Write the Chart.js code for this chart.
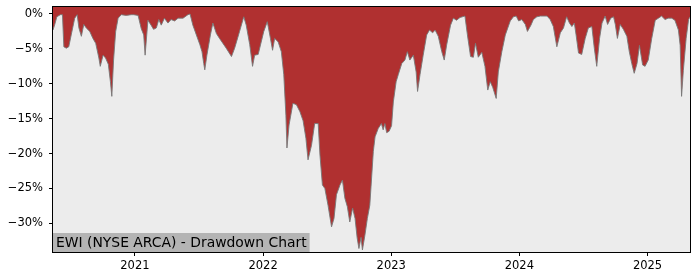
<!DOCTYPE html>
<html>
<head>
<meta charset="utf-8">
<script src="https://cdn.jsdelivr.net/npm/chart.js@4.4.1/dist/chart.umd.min.js"></script>
<style>
  body { margin: 0; background: #fff; }
  canvas { display: block; }
</style>
</head>
<body>
<canvas id="myChart" width="700" height="280"></canvas>
<script>
// drawdown of EWI (percent)
var dates = [
  '2020-05-12','2020-05-17','2020-05-23','2020-06-02','2020-06-08','2020-06-12','2020-06-19','2020-06-26',
  '2020-07-03','2020-07-13','2020-07-20','2020-07-25','2020-08-01','2020-08-08','2020-08-15','2020-08-25',
  '2020-09-03','2020-09-11','2020-09-20','2020-09-24','2020-10-02','2020-10-09','2020-10-17','2020-10-23',
  '2020-10-27','2020-11-01','2020-11-07','2020-11-14','2020-11-23','2020-12-07','2020-12-22','2020-12-28',
  '2021-01-10','2021-01-19','2021-01-26','2021-01-30','2021-02-07','2021-02-16','2021-02-23','2021-03-03',
  '2021-03-10','2021-03-17','2021-03-26','2021-04-05','2021-04-14','2021-04-24','2021-05-04','2021-05-18',
  '2021-06-01','2021-06-07','2021-06-15','2021-06-25','2021-07-05','2021-07-11','2021-07-16','2021-07-19',
  '2021-07-25','2021-08-04','2021-08-11','2021-08-21','2021-08-30','2021-09-18','2021-10-03','2021-10-12',
  '2021-10-26','2021-11-07','2021-11-14','2021-11-24','2021-12-02','2021-12-08','2021-12-18',
  '2022-01-03','2022-01-13','2022-01-22','2022-01-28','2022-02-03','2022-02-13','2022-02-22','2022-03-01',
  '2022-03-07','2022-03-10','2022-03-16','2022-03-27','2022-04-06','2022-04-16','2022-04-25','2022-05-03',
  '2022-05-09','2022-05-19','2022-05-28','2022-06-07','2022-06-12','2022-06-19','2022-06-26','2022-07-05',
  '2022-07-15','2022-07-22','2022-07-29','2022-08-08','2022-08-15','2022-08-22','2022-08-29','2022-09-05',
  '2022-09-13','2022-09-20','2022-09-26','2022-10-01','2022-10-07','2022-10-11','2022-10-18','2022-10-25',
  '2022-11-01','2022-11-11','2022-11-16','2022-11-25','2022-12-04','2022-12-09','2022-12-14','2022-12-19',
  '2022-12-26',
  '2023-01-02','2023-01-07','2023-01-15','2023-01-21','2023-01-31','2023-02-09','2023-02-16','2023-02-23',
  '2023-03-05','2023-03-13','2023-03-17','2023-03-24','2023-04-02','2023-04-12','2023-04-20','2023-04-29',
  '2023-05-06','2023-05-15','2023-05-25','2023-06-01','2023-06-08','2023-06-19','2023-06-27','2023-07-06',
  '2023-07-16','2023-07-30','2023-08-06','2023-08-15','2023-08-23','2023-08-29','2023-09-06','2023-09-16',
  '2023-09-25','2023-10-03','2023-10-10','2023-10-17','2023-10-27','2023-11-02','2023-11-12','2023-11-22',
  '2023-12-06','2023-12-15','2023-12-23','2023-12-30',
  '2024-01-08','2024-01-18','2024-01-24','2024-02-03','2024-02-10','2024-02-20','2024-03-01','2024-03-20',
  '2024-03-29','2024-04-07','2024-04-17','2024-04-27','2024-05-06','2024-05-15','2024-05-23','2024-05-30',
  '2024-06-06','2024-06-11','2024-06-18','2024-06-27','2024-07-07','2024-07-16','2024-07-26','2024-08-02',
  '2024-08-09','2024-08-17','2024-08-24','2024-09-02','2024-09-09','2024-09-18','2024-09-26','2024-10-01',
  '2024-10-07','2024-10-15','2024-10-24','2024-11-03','2024-11-10','2024-11-17','2024-11-24','2024-12-02',
  '2024-12-09','2024-12-18','2024-12-25',
  '2025-01-03','2025-01-13','2025-01-23','2025-02-01','2025-02-10','2025-02-20','2025-03-01','2025-03-11',
  '2025-03-20','2025-03-30','2025-04-04','2025-04-08','2025-04-13','2025-04-21','2025-04-28','2025-05-02'
];

var drawdown = [
  -2.3, -1.5, -0.4, -0.1, -0.1, -4.7, -4.9, -4.7,
  -3.0, -0.6, -0.1, -2.0, -3.2, -1.5, -2.0, -2.5,
  -3.5, -4.2, -6.3, -7.5, -5.9, -6.3, -7.2, -9.7,
  -11.8, -6.6, -2.5, -0.6, -0.1, -0.2, -0.1, -0.1,
  -0.2, -2.1, -3.0, -5.9, -0.9, -1.6, -2.2, -2.0,
  -0.8, -1.6, -0.6, -1.3, -0.8, -1.0, -0.6, -0.6,
  -0.1, 0.0, -1.6, -3.0, -4.4, -5.4, -7.1, -8.0,
  -5.9, -3.0, -1.3, -2.8, -3.5, -4.9, -6.1, -4.9,
  -2.5, -0.4, -1.6, -4.4, -7.5, -5.9, -5.8,
  -2.5, -1.1, -3.5, -5.2, -3.5, -4.0, -5.4, -8.7,
  -14.5, -19.2, -15.9, -12.8, -13.0, -14.0, -15.3, -17.8,
  -20.9, -18.8, -15.7, -15.7, -20.2, -24.5, -25.0, -27.4,
  -30.5, -29.3, -25.9, -24.5, -23.8, -26.4, -27.6, -29.8,
  -27.8, -29.3, -32.1, -33.6, -32.0, -33.8, -31.7, -29.3,
  -27.4, -19.7, -17.6, -16.4, -15.7, -16.6, -15.7, -17.0,
  -16.8,
  -16.0, -12.6, -9.7, -8.7, -7.1, -6.6, -5.4, -6.6,
  -5.9, -8.3, -11.1, -8.7, -5.9, -3.0, -2.3, -2.7,
  -2.3, -3.2, -5.4, -6.6, -4.4, -1.6, -0.6, -0.9,
  -0.5, -0.3, -3.0, -6.1, -6.2, -4.2, -6.2, -5.5,
  -7.5, -10.9, -9.7, -10.5, -12.1, -8.3, -5.4, -3.0,
  -1.0, -0.4, -0.3, -1.0,
  -0.8, -1.5, -2.5, -1.6, -0.8, -0.4, -0.3, -0.3,
  -0.8, -1.8, -4.7, -2.7, -2.0, -0.4, -1.3, -1.8,
  -1.3, -3.0, -5.6, -5.8, -3.5, -2.0, -1.8, -4.9,
  -7.5, -3.5, -1.3, -0.3, -1.5, -0.6, -0.4, -1.5,
  -3.5, -1.5, -2.2, -3.2, -5.4, -7.1, -8.5, -7.1,
  -4.5, -7.3, -7.5,
  -6.6, -3.5, -0.9, -0.6, -0.3, -0.8, -0.6, -0.6,
  -0.9, -2.3, -4.5, -11.8, -8.1, -3.5, -0.8, -0.4
];

var yearTicks = [2021, 2022, 2023, 2024, 2025];
var pctTicks = [0, -5, -10, -15, -20, -25, -30];
var titleText = 'EWI (NYSE ARCA) - Drawdown Chart';

// date string -> fractional year, so a linear scale can be used
function toYear(s) {
  var d = new Date(s + 'T00:00:00Z');
  var y = d.getUTCFullYear();
  var start = Date.UTC(y, 0, 1);
  var end = Date.UTC(y + 1, 0, 1);
  return y + (d.getTime() - start) / (end - start);
}

var points = dates.map(function (s, i) {
  return { x: toYear(s), y: drawdown[i] };
});

var font = { family: 'DejaVu Sans', size: 11.5 };

var plotDecor = {
  id: 'plotDecor',
  beforeDatasetsDraw: function (chart) {
    var a = chart.chartArea;
    var c = chart.ctx;
    c.save();
    c.fillStyle = '#ececec';
    c.fillRect(a.left, a.top, a.right - a.left, a.bottom - a.top);
    c.restore();
  },
  afterDatasetsDraw: function (chart) {
    var a = chart.chartArea;
    var c = chart.ctx;
    c.save();
    c.font = '13.9px "DejaVu Sans"';
    var w = c.measureText(titleText).width;
    c.fillStyle = '#b4b4b4';
    c.fillRect(a.left, a.bottom - 19, w + 6, 19);
    c.fillStyle = '#000';
    c.textBaseline = 'alphabetic';
    c.fillText(titleText, a.left + 3, a.bottom - 5);
    c.strokeStyle = '#000';
    c.lineWidth = 1;
    c.strokeRect(Math.round(a.left) - 0.5, Math.round(a.top) - 0.5,
      Math.round(a.right - a.left) + 1, Math.round(a.bottom - a.top) + 1);
    c.restore();
  }
};

var ctx = document.getElementById('myChart').getContext('2d');

var myChart = new Chart(ctx, {
  type: 'line',
  data: {
    datasets: [{
      data: points,
      borderColor: 'rgba(120,120,120,0.9)',
      borderWidth: 1,
      backgroundColor: '#b03030',
      fill: 'end',
      pointRadius: 0,
      tension: 0
    }]
  },
  options: {
    responsive: false,
    animation: false,
    layout: { padding: { top: 7, right: 10, left: 0, bottom: 0 } },
    plugins: {
      legend: { display: false },
      tooltip: { enabled: false }
    },
    scales: {
      x: {
        type: 'linear',
        min: points[0].x,
        max: points[points.length - 1].x,
        afterBuildTicks: function (scale) {
          scale.ticks = yearTicks.map(function (v) { return { value: v }; });
        },
        afterFit: function (scale) {
          scale.height = 28;
          scale.paddingLeft = 0;
          scale.paddingRight = 0;
        },
        ticks: {
          color: '#000',
          font: font,
          padding: 3,
          maxRotation: 0,
          autoSkip: false,
          callback: function (v) { return String(v); }
        },
        grid: { drawOnChartArea: false, tickLength: 4, color: '#000' },
        border: { color: '#000' }
      },
      y: {
        min: -34.1,
        max: 1.0,
        afterBuildTicks: function (scale) {
          scale.ticks = pctTicks.map(function (v) { return { value: v }; });
        },
        afterFit: function (scale) {
          scale.width = 53;
          scale.paddingTop = 0;
          scale.paddingBottom = 0;
        },
        ticks: {
          color: '#000',
          font: font,
          padding: 6,
          callback: function (v) {
            return v === 0 ? '0%' : '\u2212' + Math.abs(v) + '%';
          }
        },
        grid: { drawOnChartArea: false, tickLength: 4, color: '#000' },
        border: { color: '#000' }
      }
    }
  },
  plugins: [plotDecor]
});
</script>
</body>
</html>
